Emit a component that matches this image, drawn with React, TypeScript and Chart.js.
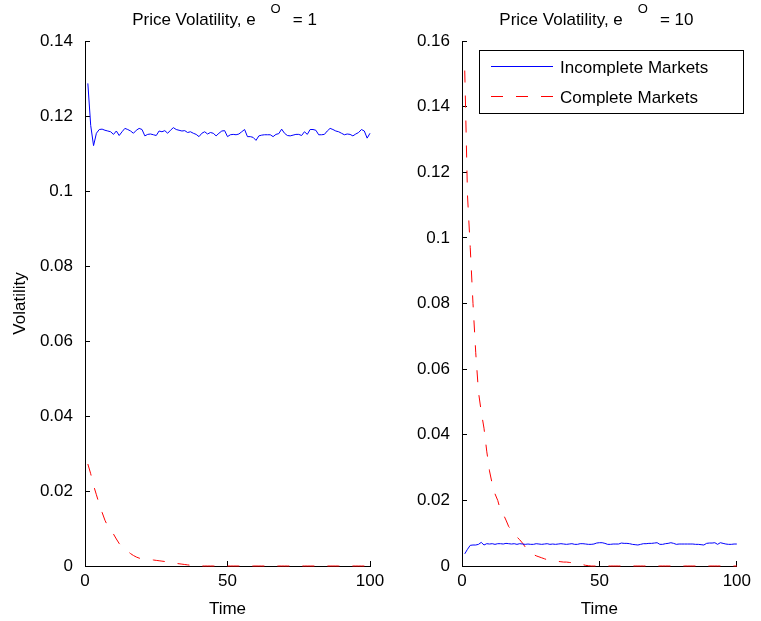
import React, { useEffect, useRef } from 'react';
import { Chart, registerables } from 'chart.js';
import type { ChartConfiguration, Plugin } from 'chart.js';

Chart.register(...registerables);

const FONT = "'Liberation Sans', Arial, Helvetica, sans-serif";

// e^O = 1 panel
const leftIncomplete = [
  0.1287, 0.1175, 0.1121, 0.1154, 0.1164, 0.1165, 0.1162, 0.116, 0.1158, 0.1151,
  0.116, 0.1148, 0.1158, 0.1167, 0.1164, 0.116, 0.1154, 0.1162, 0.1167, 0.1164,
  0.1147, 0.1151, 0.1152, 0.115, 0.1148, 0.116, 0.1158, 0.1161, 0.1154, 0.1162,
  0.1169, 0.1164, 0.1162, 0.116, 0.1161, 0.1156, 0.1158, 0.1154, 0.1151, 0.1145,
  0.1154, 0.1158, 0.1152, 0.1156, 0.1154, 0.1147, 0.1154, 0.116, 0.1161, 0.1145,
  0.115, 0.1151, 0.115, 0.1152, 0.1158, 0.1164, 0.1145, 0.1145, 0.1143, 0.1135,
  0.1147, 0.1149, 0.115, 0.115, 0.115, 0.1145, 0.1151, 0.1153, 0.1165, 0.1154,
  0.1148, 0.1147, 0.1149, 0.1151, 0.1151, 0.1148, 0.1158, 0.1151, 0.1164, 0.1164,
  0.1162, 0.115, 0.115, 0.1151, 0.116, 0.1167, 0.1164, 0.116, 0.1158, 0.1154,
  0.115, 0.1152, 0.1151, 0.1147, 0.1152, 0.1156, 0.1164, 0.116, 0.1141, 0.1154,
];
const leftComplete = [
  0.0272, 0.0246, 0.0215, 0.019, 0.0165, 0.0143, 0.0122, 0.0106, 0.0095, 0.0085,
  0.0072, 0.006, 0.0052, 0.0045, 0.0039, 0.0033, 0.0028, 0.0024, 0.0021, 0.0019,
  0.0018, 0.0018, 0.0017, 0.0016, 0.0015, 0.0014, 0.0013, 0.0012, 0.001, 0.0009,
  0.0008, 0.0007, 0.0006, 0.0005, 0.0004, 0.0003, 0.0002, 0.0001, 0, 0,
  0, 0, 0, 0, 0, 0, 0, 0, 0, 0,
  0, 0, 0, 0, 0, 0, 0, 0, 0, 0,
  0, 0, 0, 0, 0, 0, 0, 0, 0, 0,
  0, 0, 0, 0, 0, 0, 0, 0, 0, 0,
  0, 0, 0, 0, 0, 0, 0, 0, 0, 0,
  0, 0, 0, 0, 0, 0, 0, 0, 0, 0,
];

// e^O = 10 panel
const rightIncomplete = [
  0.0037, 0.0051, 0.0063, 0.0064, 0.0064, 0.0066, 0.0072, 0.0064, 0.0068, 0.0067,
  0.0068, 0.0066, 0.0068, 0.0068, 0.0067, 0.0069, 0.0068, 0.0067, 0.0068, 0.0066,
  0.0068, 0.0067, 0.0066, 0.0067, 0.0066, 0.0066, 0.0068, 0.0067, 0.0066, 0.0067,
  0.0068, 0.0066, 0.0067, 0.0066, 0.0067, 0.0068, 0.0067, 0.0066, 0.0067, 0.0068,
  0.0066, 0.0066, 0.0068, 0.0068, 0.0067, 0.0066, 0.0066, 0.0067, 0.007, 0.0071,
  0.0071, 0.0069, 0.0066, 0.0066, 0.0067, 0.0067, 0.0067, 0.007, 0.0069, 0.0069,
  0.0068, 0.0066, 0.0065, 0.0064, 0.0066, 0.0068, 0.0068, 0.0069, 0.0069, 0.007,
  0.0071, 0.0066, 0.0066, 0.0068, 0.0069, 0.0071, 0.0069, 0.0066, 0.0067, 0.0067,
  0.0067, 0.0067, 0.0067, 0.0067, 0.0066, 0.0066, 0.0065, 0.0064, 0.0069, 0.007,
  0.007, 0.0071, 0.0066, 0.0071, 0.0069, 0.0067, 0.0066, 0.0066, 0.0067, 0.0067,
];
const rightComplete = [
  0.151, 0.113, 0.097, 0.08, 0.065, 0.053, 0.047, 0.042, 0.035, 0.029,
  0.025, 0.022, 0.02, 0.017, 0.0158, 0.014, 0.012, 0.011, 0.0098, 0.0088,
  0.008, 0.007, 0.0058, 0.0046, 0.004, 0.0035, 0.0031, 0.0028, 0.0025, 0.0022,
  0.0019, 0.0017, 0.0016, 0.0015, 0.0014, 0.0013, 0.0012, 0.0012, 0.0011, 0.001,
  0.001, 0.0008, 0.0006, 0.0004, 0.0002, 0.0001, 0, 0, 0, 0,
  0, 0, 0, 0, 0, 0, 0, 0, 0, 0,
  0, 0, 0, 0, 0, 0, 0, 0, 0, 0,
  0, 0, 0, 0, 0, 0, 0, 0, 0, 0,
  0, 0, 0, 0, 0, 0, 0, 0, 0, 0,
  0, 0, 0, 0, 0, 0, 0, 0, 0, 0,
];

const seriesNames = ['Incomplete Markets', 'Complete Markets'];
const xTicks = [0, 50, 100];

const toPoints = (values: number[]) => values.map((y, i) => ({ x: i + 1, y }));

// title like "Price Volatility, e^O = 1"
const supTitle = (value: string): Plugin<'line'> => ({
  id: 'supTitle',
  afterDraw(chart) {
    const { ctx, chartArea } = chart;
    const main = 'Price Volatility, e';
    const sup = 'O';
    const tail = '= ' + value;
    ctx.save();
    ctx.fillStyle = '#000';
    ctx.textBaseline = 'alphabetic';
    ctx.textAlign = 'left';
    ctx.font = `17px ${FONT}`;
    const wMain = ctx.measureText(main).width;
    const wTail = ctx.measureText(tail).width;
    ctx.font = `13px ${FONT}`;
    const wSup = ctx.measureText(sup).width;
    const total = wMain + 15 + wSup + 12 + wTail;
    let x = (chartArea.left + chartArea.right) / 2 - 3 - total / 2;
    ctx.font = `17px ${FONT}`;
    ctx.fillText(main, x, 25);
    x += wMain + 15;
    ctx.font = `13px ${FONT}`;
    ctx.fillText(sup, x, 13);
    x += wSup + 12;
    ctx.font = `17px ${FONT}`;
    ctx.fillText(tail, x, 25);
    ctx.restore();
  },
});

// boxed legend inside the top right of the plot
const boxLegend: Plugin<'line'> = {
  id: 'boxLegend',
  afterDraw(chart) {
    const { ctx, chartArea } = chart;
    const left = chartArea.left + 17;
    const top = chartArea.top + 9;
    const w = 264;
    const h = 63;
    ctx.save();
    ctx.fillStyle = '#fff';
    ctx.fillRect(left, top, w, h);
    ctx.strokeStyle = '#000';
    ctx.lineWidth = 1;
    ctx.strokeRect(Math.round(left) + 0.5, Math.round(top) + 0.5, w, h);
    chart.data.datasets.forEach((ds: any, i: number) => {
      const y = Math.round(top + 16 + i * 30) + 0.5;
      ctx.beginPath();
      ctx.strokeStyle = ds.borderColor;
      ctx.setLineDash(ds.borderDash || []);
      ctx.moveTo(left + 12, y);
      ctx.lineTo(left + 74, y);
      ctx.stroke();
      ctx.setLineDash([]);
      ctx.fillStyle = '#000';
      ctx.font = `17px ${FONT}`;
      ctx.textBaseline = 'middle';
      ctx.fillText(ds.label, left + 81, y + 1.5);
    });
    ctx.restore();
  },
};

const makeConfig = (
  incomplete: number[],
  complete: number[],
  yMax: number,
  yWidth: number,
  padRight: number,
  yTitle: boolean,
  plugins: Plugin<'line'>[],
): ChartConfiguration<'line'> => ({
  type: 'line',
  data: {
    datasets: [
      {
        label: seriesNames[0],
        data: toPoints(incomplete),
        borderColor: '#0000ff',
        borderWidth: 1,
        pointRadius: 0,
        fill: false,
        tension: 0,
        clip: 3,
      },
      {
        label: seriesNames[1],
        data: toPoints(complete),
        borderColor: '#ff0000',
        borderWidth: 1,
        borderDash: [12, 13],
        pointRadius: 0,
        fill: false,
        tension: 0,
        clip: 3,
      },
    ],
  },
  options: {
    animation: false,
    responsive: false,
    layout: { padding: { left: 0, top: 41, right: padRight, bottom: 0 } },
    plugins: {
      legend: { display: false },
      title: { display: false },
      tooltip: { enabled: false },
    },
    scales: {
      x: {
        type: 'linear',
        min: 0,
        max: 100,
        afterBuildTicks: (scale) => {
          scale.ticks = xTicks.map((value) => ({ value }));
        },
        afterFit: (scale) => {
          scale.height = 55;
        },
        grid: { drawOnChartArea: false, tickLength: -5, color: '#000' },
        border: { display: true, color: '#000', width: 1 },
        ticks: {
          color: '#000',
          font: { family: FONT, size: 17 },
          padding: 10,
          maxRotation: 0,
          callback: (v) => String(v),
        },
        title: {
          display: true,
          text: 'Time',
          color: '#000',
          font: { family: FONT, size: 17 },
          padding: { top: 0, bottom: 1 },
        },
      },
      y: {
        type: 'linear',
        min: 0,
        max: yMax,
        afterFit: (scale) => {
          scale.width = yWidth;
        },
        grid: { drawOnChartArea: false, tickLength: -5, color: '#000' },
        border: { display: true, color: '#000', width: 1 },
        ticks: {
          stepSize: 0.02,
          color: '#000',
          font: { family: FONT, size: 17 },
          padding: 17,
          callback: (v) => String(Number(Number(v).toFixed(2))),
        },
        title: {
          display: yTitle,
          text: 'Volatility',
          color: '#000',
          font: { family: FONT, size: 17 },
          padding: { top: 10, bottom: 0 },
        },
      },
    },
  },
  plugins,
});

const App: React.FC = () => {
  const leftRef = useRef<HTMLCanvasElement | null>(null);
  const rightRef = useRef<HTMLCanvasElement | null>(null);

  useEffect(() => {
    const charts: Chart<'line'>[] = [];
    if (leftRef.current) {
      charts.push(
        new Chart(
          leftRef.current,
          makeConfig(leftIncomplete, leftComplete, 0.14, 85, 50, true, [supTitle('1')]),
        ),
      );
    }
    if (rightRef.current) {
      charts.push(
        new Chart(
          rightRef.current,
          makeConfig(rightIncomplete, rightComplete, 0.16, 82, 13, false, [
            supTitle('10'),
            boxLegend,
          ]),
        ),
      );
    }
    return () => {
      charts.forEach((c) => c.destroy());
    };
  }, []);

  return (
    <div>
      <canvas
        ref={leftRef}
        width={420}
        height={621}
        style={{ position: 'absolute', left: 0, top: 0, width: 420, height: 621 }}
      />
      <canvas
        ref={rightRef}
        width={381}
        height={621}
        style={{ position: 'absolute', left: 380, top: 0, width: 381, height: 621 }}
      />
    </div>
  );
};

export default App;
